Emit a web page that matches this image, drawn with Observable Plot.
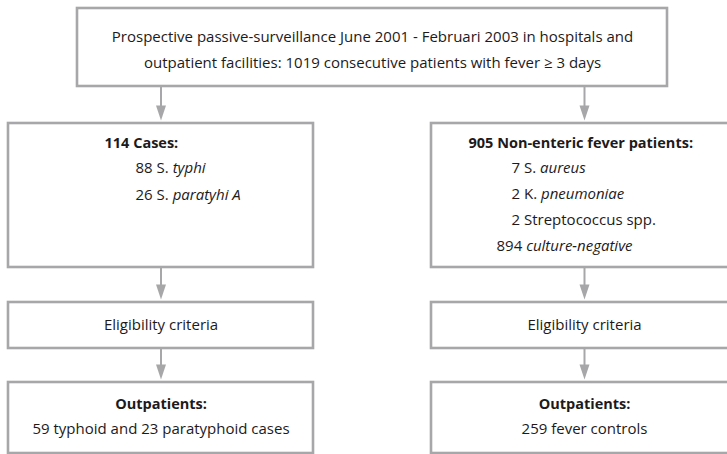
<!DOCTYPE html>
<html>
<head>
<meta charset="utf-8">
<script src="https://cdn.jsdelivr.net/npm/d3@7"></script>
<script src="https://cdn.jsdelivr.net/npm/@observablehq/plot@0.6"></script>
<style>
  html, body { margin: 0; padding: 0; background: #fff; }
  #chart { width: 727px; height: 454px; overflow: hidden; }
</style>
</head>
<body>
<div id="chart"></div>
<script>
// ---- content (text of each box; _..._ marks italic runs) ----
const sourceLines = [
  "Prospective passive-surveillance June 2001 - Februari 2003 in hospitals and",
  "outpatient facilities: 1019 consecutive patients with fever ≥ 3 days"
];
const caseTitle = "114 Cases:";
const caseItems = ["88 S. _typhi_", "26 S. _paratyhi A_"];
const controlTitle = "905 Non-enteric fever patients:";
const controlItems = ["7 S. _aureus_", "2 K. _pneumoniae_", "2 Streptococcus spp."];
const controlRest = "894 _culture-negative_";
const eligibilityLabels = ["Eligibility criteria", "Eligibility criteria"];
const outTitles = ["Outpatients:", "Outpatients:"];
const outLabels = ["59 typhoid and 23 paratyphoid cases", "259 fever controls"];

// ---- layout (pixel frame, through linear identity scales) ----
const colX = [[8, 313], [431, 737]];            // left / right column extents
const topBox = {x1: 77, x2: 667, y1: 8, y2: 86};
const rowY = [[123, 267], [302, 348], [382, 453]]; // case row, eligibility row, outpatient row
const boxes = [
  topBox,
  ...rowY.flatMap(([y1, y2]) => colX.map(([x1, x2]) => ({x1, x2, y1, y2})))
];
const colCenter = colX.map(([a, b]) => (a + b) / 2);
const arrows = [
  ...colCenter.map(x => ({x, y1: topBox.y2, y2: rowY[0][0]})),
  ...colCenter.map(x => ({x, y1: rowY[0][1], y2: rowY[1][0]})),
  ...colCenter.map(x => ({x, y1: rowY[1][1], y2: rowY[2][0]}))
];

const texts = [];
sourceLines.forEach((t, i) => texts.push({x: (topBox.x1 + topBox.x2) / 2, y: [37, 63][i], t, w: "normal", a: "middle"}));
texts.push({x: 104, y: 143, t: caseTitle, w: "bold", a: "start"});
caseItems.forEach((t, i) => texts.push({x: 135, y: [168, 195][i], t, w: "normal", a: "start"}));
texts.push({x: 468, y: 143, t: controlTitle, w: "bold", a: "start"});
controlItems.forEach((t, i) => texts.push({x: 511, y: [168, 194, 220][i], t, w: "normal", a: "start"}));
texts.push({x: 496, y: 246, t: controlRest, w: "normal", a: "start"});
eligibilityLabels.forEach((t, i) => texts.push({x: colCenter[i], y: 325, t, w: "normal", a: "middle"}));
outTitles.forEach((t, i) => texts.push({x: colCenter[i], y: 404, t, w: "bold", a: "middle"}));
outLabels.forEach((t, i) => texts.push({x: colCenter[i], y: 429, t, w: "normal", a: "middle"}));

const GRAY = "#a7a7a9";
const arrowHead = {
  draw(ctx) {
    ctx.moveTo(-5, -15);
    ctx.lineTo(5, -15);
    ctx.lineTo(0, 0);
    ctx.closePath();
  }
};

const textMark = (w, a) => Plot.text(texts.filter(d => d.w === w && d.a === a), {
  x: "x", y: "y", text: "t", textAnchor: a, fontWeight: w, lineAnchor: "middle", fill: "#1d1a1b",
  fontSize: w === "bold" ? 14.5 : 15
});

const chart = Plot.plot({
  width: 727,
  height: 454,
  margin: 0,
  x: {domain: [0, 727], range: [0, 727], axis: null},
  y: {domain: [0, 454], range: [0, 454], axis: null},
  style: {fontFamily: "'Open Sans', sans-serif", fontSize: "15px", background: "#fff", overflow: "hidden"},
  marks: [
    Plot.rect(boxes, {x1: "x1", x2: "x2", y1: "y1", y2: "y2", fill: "white", stroke: GRAY, strokeWidth: 2.6}),
    Plot.link(arrows, {x1: "x", x2: "x", y1: "y1", y2: d => d.y2 - 12, stroke: GRAY, strokeWidth: 2}),
    Plot.dot(arrows, {x: "x", y: d => d.y2 - 3, symbol: arrowHead, fill: GRAY, stroke: "none"}),
    textMark("normal", "middle"),
    textMark("bold", "middle"),
    textMark("bold", "start"),
    textMark("normal", "start")
  ]
});

// turn _..._ runs into italic tspans (still real text)
d3.select(chart).selectAll("text").each(function() {
  const s = this.textContent;
  if (!s.includes("_")) return;
  const parts = s.split("_");
  this.textContent = "";
  parts.forEach((p, i) => {
    if (!p) return;
    const ts = document.createElementNS("http://www.w3.org/2000/svg", "tspan");
    ts.textContent = p;
    if (i % 2 === 1) ts.setAttribute("font-style", "italic");
    this.appendChild(ts);
  });
});

document.getElementById("chart").appendChild(chart);
</script>
</body>
</html>
